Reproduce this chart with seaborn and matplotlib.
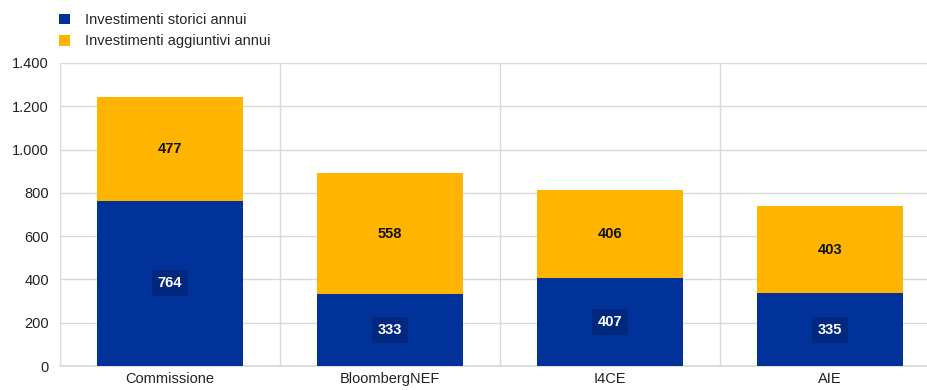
import matplotlib
matplotlib.use("Agg")
import matplotlib.pyplot as plt
import seaborn as sns
import pandas as pd
from matplotlib.patches import Patch
from matplotlib.ticker import FuncFormatter, MultipleLocator

categories = ["Commissione", "BloombergNEF", "I4CE", "AIE"]
storici = [764, 333, 407, 335]
aggiuntivi = [477, 558, 406, 403]
series_names = ["Investimenti storici annui", "Investimenti aggiuntivi annui"]

BLUE = "#003299"
YELLOW = "#FFB400"

sns.set_theme(style="white")
plt.rcParams["font.family"] = ["Liberation Sans", "DejaVu Sans"]

totals = [s + a for s, a in zip(storici, aggiuntivi)]
df = pd.DataFrame({"cat": categories, "storici": storici, "aggiuntivi": aggiuntivi, "tot": totals})

fig = plt.figure(figsize=(9.27, 3.9), dpi=100)
ax = fig.add_axes([60 / 927, 24 / 390, 880 / 927, 303 / 390])

sns.barplot(data=df, x="cat", y="tot", color=YELLOW, saturation=1, width=0.66, ax=ax,
            zorder=3, edgecolor="none", linewidth=0)
sns.barplot(data=df, x="cat", y="storici", color=BLUE, saturation=1, width=0.66, ax=ax,
            zorder=3, edgecolor="none", linewidth=0)

ax.set_xlim(-0.5, len(categories) - 0.5)
ax.set_ylim(0, 1400)
ax.yaxis.set_major_locator(MultipleLocator(200))
ax.yaxis.set_major_formatter(FuncFormatter(lambda v, p: f"{int(v):,}".replace(",", ".")))
ax.grid(axis="y", color="#d9d9d9", linewidth=1, zorder=0)
for b in range(len(categories) + 1):
    ax.axvline(b - 0.5, color="#d9d9d9", linewidth=1, zorder=0)
for s in ["top", "right", "left"]:
    ax.spines[s].set_visible(False)
ax.spines["bottom"].set_color("#d9d9d9")
ax.set_xlabel("")
ax.set_ylabel("")
ax.tick_params(axis="both", length=0, labelsize=10.5, colors="#222222", pad=8)
ax.tick_params(axis="x", pad=4)

for i, (s, a) in enumerate(zip(storici, aggiuntivi)):
    ax.text(i, s / 2, f"{s}", ha="center", va="center", color="white", fontsize=10.5,
            fontweight="bold", zorder=5,
            bbox=dict(boxstyle="square,pad=0.4", fc="#00287f", ec="none"))
    ax.text(i, s + a / 2, f"{a}", ha="center", va="center", color="#111111", fontsize=10.5,
            fontweight="bold", zorder=5)

handles = [Patch(facecolor=BLUE, edgecolor="none"), Patch(facecolor=YELLOW, edgecolor="none")]
fig.legend(handles, series_names, loc="upper left", bbox_to_anchor=(46 / 927, 1.0),
           frameon=False, fontsize=10.5, handlelength=0.75, handleheight=0.75,
           handletextpad=1.0, labelspacing=0.5, borderpad=0.4)

fig.savefig("out.png", dpi=100)
